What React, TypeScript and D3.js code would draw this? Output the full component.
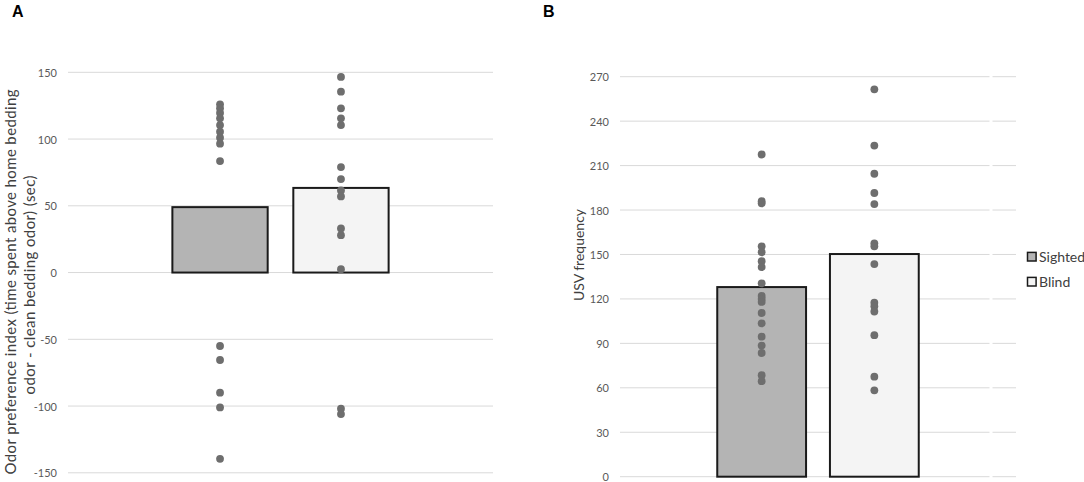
import * as d3 from "d3";

const groups = ["Sighted", "Blind"];

// Panel A: odor preference index (sec)
const odorMeans = [49, 63.4];
const odorSighted = [126, 123, 119.5, 115.5, 110.5, 105.5, 101, 96.5, 83.5, -55, -65.5, -90, -101, -139.5];
const odorBlind = [146.5, 135.5, 123, 115.5, 110.5, 79, 70, 61.5, 57, 33, 28, 2.5, -102, -106];
const odorTicks = [-150, -100, -50, 0, 50, 100, 150];

// Panel B: USV frequency
const usvMeans = [128, 150.3];
const usvSighted = [217.5, 186, 184.5, 155.5, 151.5, 145.5, 141.5, 130.5, 122, 120, 118, 110.5, 103.5, 94.5, 88.5, 83.5, 68.5, 64.5];
const usvBlind = [261.5, 223.5, 204.5, 191.5, 184, 157.5, 155.5, 143.5, 117.5, 115, 111.5, 95.5, 67.5, 58.3];
const usvTicks = [0, 30, 60, 90, 120, 150, 180, 210, 240, 270];

const W = 1084;
const H = 482;
const FILLS = ["#b4b4b4", "#f4f4f4"];
const TEXT_FONT = "Lato, 'Open Sans', sans-serif";
const GRID = "#d9d9d9";
const TICK_COLOR = "#595959";
const DOT = "#6e6e6e";

interface PanelProps {
  left: number;
  right: number;
  top: number;
  bottom: number;
  domain: [number, number];
  ticks: number[];
  means: number[];
  points: number[][];
  gridGap?: [number, number];
}

function Panel({ left, right, top, bottom, domain, ticks, means, points, gridGap }: PanelProps) {
  const x = d3
    .scaleBand<string>()
    .domain(groups)
    .range([left, right])
    .paddingInner(0.212)
    .paddingOuter(0.863);
  const y = d3.scaleLinear().domain(domain).range([bottom, top]);
  const bw = x.bandwidth();

  return (
    <g>
      {/* gridlines */}
      {ticks.map((t) =>
        gridGap ? (
          <g key={t}>
            <line x1={left} x2={gridGap[0]} y1={y(t)} y2={y(t)} stroke={GRID} strokeWidth={1} />
            <line x1={gridGap[1]} x2={right} y1={y(t)} y2={y(t)} stroke={GRID} strokeWidth={1} />
          </g>
        ) : (
          <line key={t} x1={left} x2={right} y1={y(t)} y2={y(t)} stroke={GRID} strokeWidth={1} />
        )
      )}
      {/* tick labels */}
      {ticks.map((t) => (
        <text
          key={"l" + t}
          x={left - 11}
          y={y(t)}
          textAnchor="end"
          dominantBaseline="central"
          fontSize={11}
          fill={TICK_COLOR}
          fontFamily={TEXT_FONT}
        >
          {t}
        </text>
      ))}
      {/* bars */}
      {groups.map((g, i) => {
        const y0 = y(Math.max(0, means[i]));
        const y1 = y(Math.min(0, means[i]));
        return (
          <rect
            key={g}
            x={x(g)!}
            y={y0}
            width={bw}
            height={y1 - y0}
            fill={FILLS[i]}
            stroke="#1a1a1a"
            strokeWidth={2}
          />
        );
      })}
      {/* individual points */}
      {groups.map((g, i) =>
        points[i].map((v, j) => (
          <circle key={g + j} cx={x(g)! + bw / 2} cy={y(v)} r={3.9} fill={DOT} />
        ))
      )}
    </g>
  );
}

export default function App() {
  return (
    <svg
      width={W}
      height={H}
      viewBox={`0 0 ${W} ${H}`}
      style={{ position: "absolute", left: 0, top: 0, background: "#fff" }}
    >
      <rect width={W} height={H} fill="#fff" />

      {/* panel letters */}
      <text x={12} y={17} fontSize={16} fontWeight="bold" fontFamily="'Liberation Sans', Arial, sans-serif">
        A
      </text>
      <text x={543} y={17} fontSize={16} fontWeight="bold" fontFamily="'Liberation Sans', Arial, sans-serif">
        B
      </text>

      <Panel
        left={68}
        right={493}
        top={72.3}
        bottom={472.8}
        domain={[-150, 150]}
        ticks={odorTicks}
        means={odorMeans}
        points={[odorSighted, odorBlind]}
      />
      <Panel
        left={620}
        right={1016}
        top={76.7}
        bottom={476.7}
        domain={[0, 270]}
        ticks={usvTicks}
        means={usvMeans}
        points={[usvSighted, usvBlind]}
        gridGap={[989.5, 992.5]}
      />

      {/* axis titles */}
      <g transform="translate(10,282) rotate(-90)">
        <text
          textAnchor="middle"
          dominantBaseline="central"
          fontSize={15}
          fill="#404040"
          fontFamily={TEXT_FONT}
          textLength={385}
          lengthAdjust="spacing"
        >
          Odor preference index (time spent above home bedding
        </text>
      </g>
      <g transform="translate(29,285) rotate(-90)">
        <text
          textAnchor="middle"
          dominantBaseline="central"
          fontSize={15}
          fill="#404040"
          fontFamily={TEXT_FONT}
          textLength={219}
          lengthAdjust="spacing"
        >
          odor - clean bedding odor) (sec)
        </text>
      </g>
      <g transform="translate(578,255) rotate(-90)">
        <text textAnchor="middle" dominantBaseline="central" fontSize={14} fill="#404040" fontFamily={TEXT_FONT}>
          USV frequency
        </text>
      </g>

      {/* legend */}
      {groups.map((g, i) => (
        <g key={g} transform={`translate(1027.5, ${256.7 + i * 25})`}>
          <rect x={0} y={-4.3} width={8.6} height={8.6} fill={FILLS[i]} stroke="#1a1a1a" strokeWidth={1.5} />
          <text x={11.5} y={0} dominantBaseline="central" fontSize={14} fill="#404040" fontFamily={TEXT_FONT}>
            {g}
          </text>
        </g>
      ))}
    </svg>
  );
}
